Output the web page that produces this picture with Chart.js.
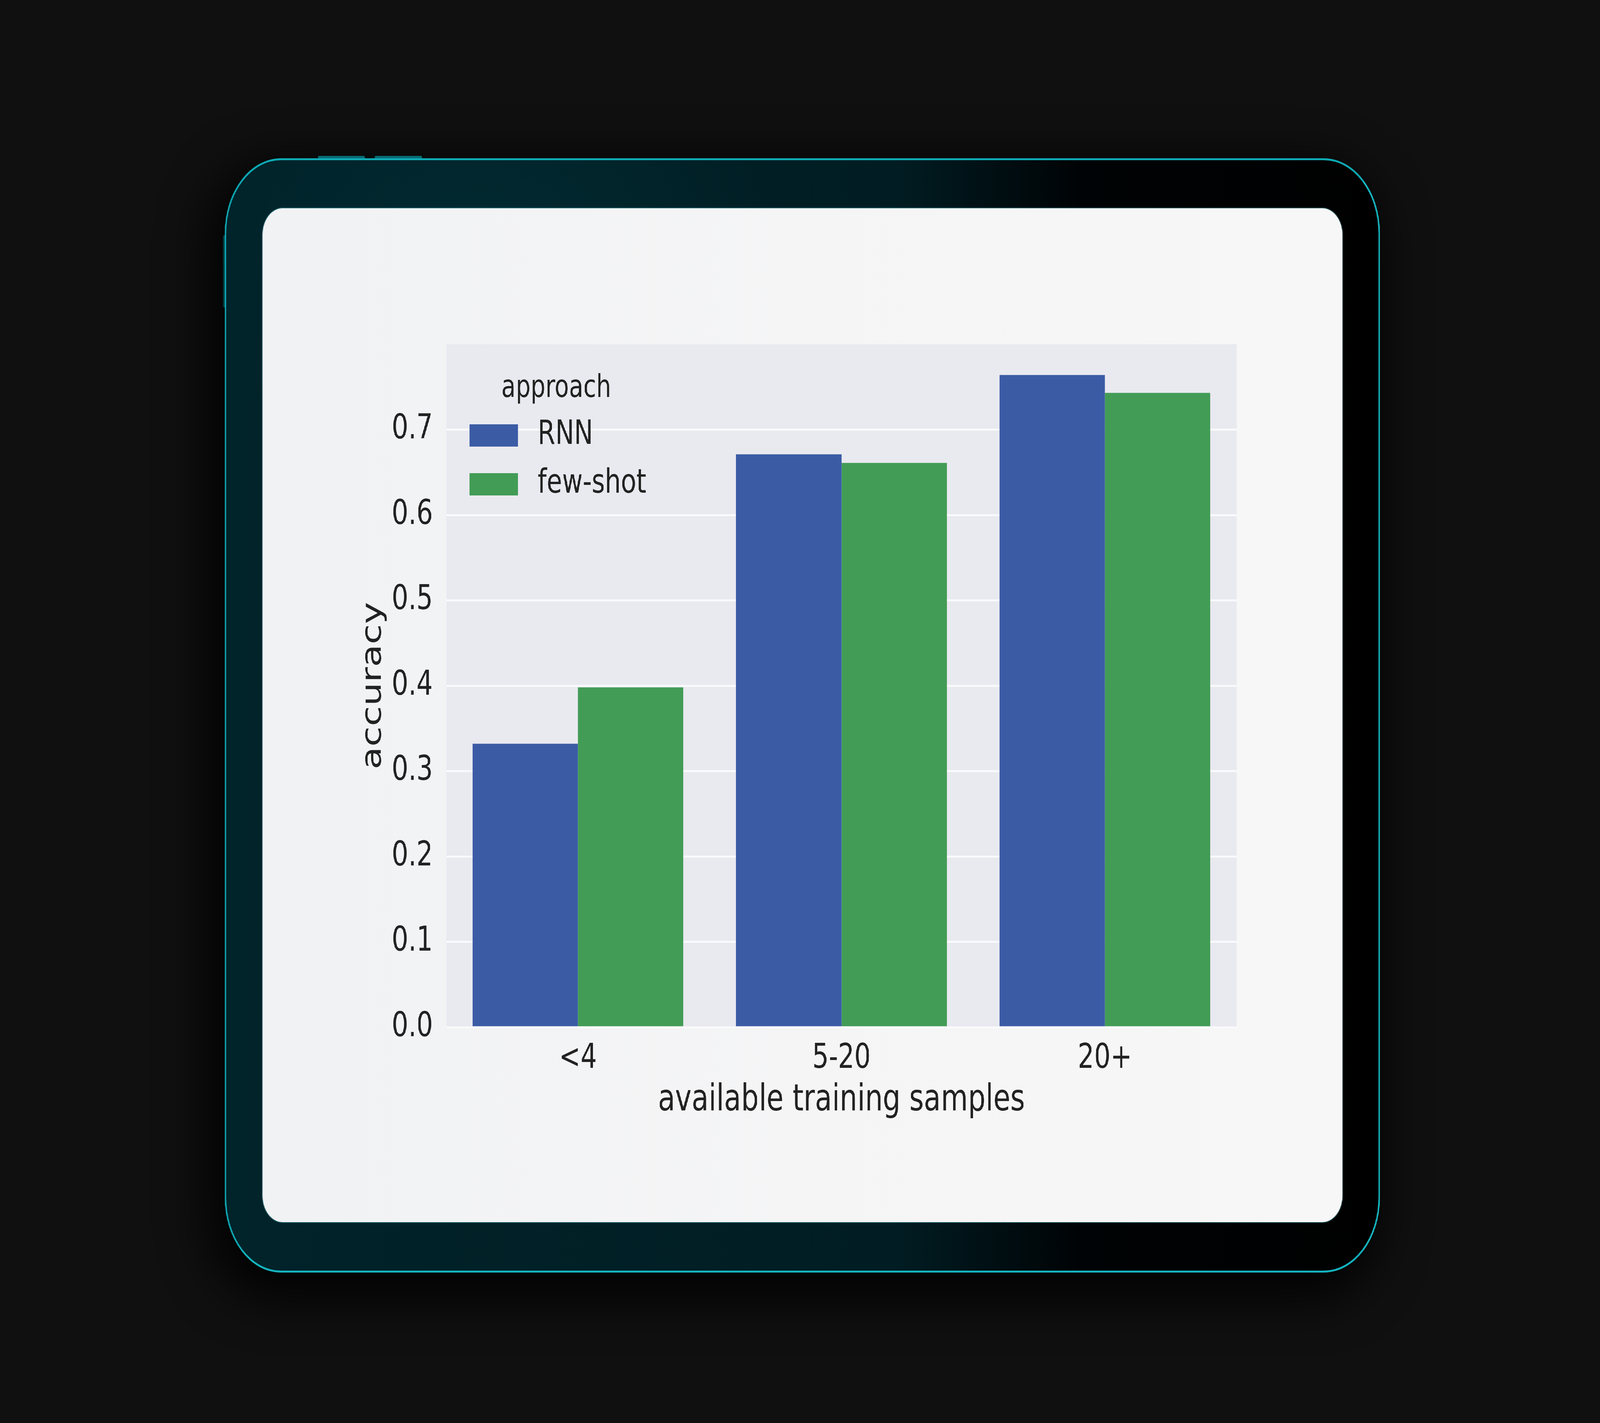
<!DOCTYPE html>
<html>
<head>
<meta charset="utf-8">
<title>accuracy by available training samples</title>
<script src="https://cdn.jsdelivr.net/npm/chart.js@4.4.1/dist/chart.umd.min.js"></script>
<style>
    html, body {
        margin: 0;
        padding: 0;
        width: 100%;
        height: 100%;
        overflow: hidden;
        background: #101010;
    }
    #stage {
        position: absolute;
        left: 0;
        top: 0;
        width: 5460px;
        height: 3642px;
        transform-origin: 0 0;
        background: #101010;
    }
    .device {
        position: absolute;
        left: 767px;
        top: 405px;
        width: 3942px;
        height: 2852px;
        box-sizing: border-box;
        border: 5px solid #0eaab5;
        border-right-color: #16bdc8;
        border-bottom-color: #13b4bf;
        border-radius: 192px;
        background:
            radial-gradient(ellipse 1400px 900px at 900px 250px, rgba(3, 50, 58, 0.55), rgba(0, 0, 0, 0) 70%),
            linear-gradient(90deg, #01232a 0%, #011d23 58%, #000305 74%, #000000 100%);
        box-shadow: -30px 40px 140px 30px rgba(0, 0, 0, 0.85);
    }
    .btn {
        position: absolute;
        background: #0ea7b2;
        border-radius: 4px;
    }
    .btn.top1 { left: 1085px; top: 399px; width: 160px; height: 10px; }
    .btn.top2 { left: 1279px; top: 399px; width: 161px; height: 10px; }
    .btn.side { left: 761px; top: 602px; width: 10px; height: 185px; }
    .screen {
        position: absolute;
        left: 896px;
        top: 533px;
        width: 3685px;
        height: 2595px;
        border-radius: 68px;
        overflow: hidden;
        background: linear-gradient(90deg, #f1f2f4 0%, #f5f5f6 50%, #f7f7f7 100%);
        box-shadow: 0 0 0 2px rgba(40, 190, 200, 0.35);
    }
    .screen canvas {
        position: absolute;
        left: 0;
        top: 0;
        width: 3685px;
        height: 2595px;
    }
</style>
</head>
<body>
<div id="stage">
    <div class="btn top1"></div>
    <div class="btn top2"></div>
    <div class="btn side"></div>
    <div class="device"></div>
    <div class="screen">
        <canvas id="accuracyChart" width="3685" height="2595"></canvas>
    </div>
</div>

<script>
// Data
const categories = ['<4', '5-20', '20+'];
const rnnAccuracy = [0.332, 0.671, 0.764];
const fewShotAccuracy = [0.398, 0.661, 0.743];
const yTicks = [0.0, 0.1, 0.2, 0.3, 0.4, 0.5, 0.6, 0.7];
const seriesNames = ['RNN', 'few-shot'];
const legendTitle = 'approach';
const xTitle = 'available training samples';
const yTitle = 'accuracy';

const textColor = '#222222';
const fontFamily = '"DejaVu Sans", "Liberation Sans", sans-serif';

// Fit the 5460x3642 stage into whatever viewport we actually get
function fitStage() {
    const stage = document.getElementById('stage');
    const sx = window.innerWidth / 5460;
    const sy = window.innerHeight / 3642;
    stage.style.transform = 'scale(' + sx + ',' + sy + ')';
}
fitStage();
window.addEventListener('resize', fitStage);

// Seaborn style grey panel behind the bars
const plotBackground = {
    id: 'plotBackground',
    beforeDraw(chart) {
        const { ctx, chartArea } = chart;
        ctx.save();
        ctx.fillStyle = '#e9e9f0';
        ctx.fillRect(chartArea.left, chartArea.top, chartArea.right - chartArea.left, chartArea.bottom - chartArea.top);
        ctx.restore();
    }
};

// Legend drawn inside the plot, upper left, with a title
const insideLegend = {
    id: 'insideLegend',
    afterDraw(chart) {
        const { ctx, chartArea } = chart;
        const x0 = chartArea.left;
        const y0 = chartArea.top;
        ctx.save();
        ctx.fillStyle = textColor;
        ctx.font = '80px ' + fontFamily;
        ctx.textAlign = 'center';
        ctx.textBaseline = 'middle';
        ctx.fillText(legendTitle, x0 + 375, y0 + 114);

        chart.data.datasets.forEach((ds, i) => {
            const cy = y0 + 233 + i * 125;
            ctx.fillStyle = ds.backgroundColor;
            ctx.fillRect(x0 + 79, cy - 28, 166, 57);
            ctx.fillStyle = textColor;
            ctx.font = '86px ' + fontFamily;
            ctx.textAlign = 'left';
            ctx.fillText(ds.label, x0 + 312, cy);
        });
        ctx.restore();
    }
};

const ctx = document.getElementById('accuracyChart').getContext('2d');
const accuracyChart = new Chart(ctx, {
    type: 'bar',
    data: {
        labels: categories,
        datasets: [{
            label: seriesNames[0],
            data: rnnAccuracy,
            backgroundColor: '#3b5ca5',
            borderWidth: 0
        }, {
            label: seriesNames[1],
            data: fewShotAccuracy,
            backgroundColor: '#429c55',
            borderWidth: 0
        }]
    },
    options: {
        responsive: false,
        devicePixelRatio: 1,
        animation: false,
        layout: {
            padding: { left: 322, right: 361, top: 348, bottom: 249 }
        },
        datasets: {
            bar: {
                categoryPercentage: 0.8,
                barPercentage: 1.0
            }
        },
        plugins: {
            legend: { display: false },
            tooltip: { enabled: false }
        },
        scales: {
            x: {
                grid: { display: false },
                border: { display: false },
                ticks: {
                    color: textColor,
                    padding: 20,
                    font: { family: fontFamily, size: 88, lineHeight: 1.2 }
                },
                title: {
                    display: true,
                    text: xTitle,
                    color: textColor,
                    padding: { top: 0, bottom: 5 },
                    font: { family: fontFamily, size: 95, lineHeight: 1.2 }
                },
                afterFit(scale) {
                    scale.height = 250;
                }
            },
            y: {
                min: 0,
                max: 0.8,
                grid: {
                    color: '#fafafc',
                    lineWidth: 5,
                    drawTicks: false
                },
                border: { display: false },
                ticks: {
                    color: textColor,
                    padding: 46,
                    font: { family: fontFamily, size: 88, lineHeight: 1.2 },
                    callback: value => Number(value).toFixed(1)
                },
                afterBuildTicks(scale) {
                    scale.ticks = yTicks.map(v => ({ value: v }));
                },
                title: {
                    display: true,
                    text: yTitle,
                    color: textColor,
                    padding: { top: 0, bottom: 0 },
                    font: { family: fontFamily, size: 95, lineHeight: 1.2 }
                },
                afterFit(scale) {
                    scale.width = 305;
                }
            }
        }
    },
    plugins: [plotBackground, insideLegend]
});
</script>
</body>
</html>
